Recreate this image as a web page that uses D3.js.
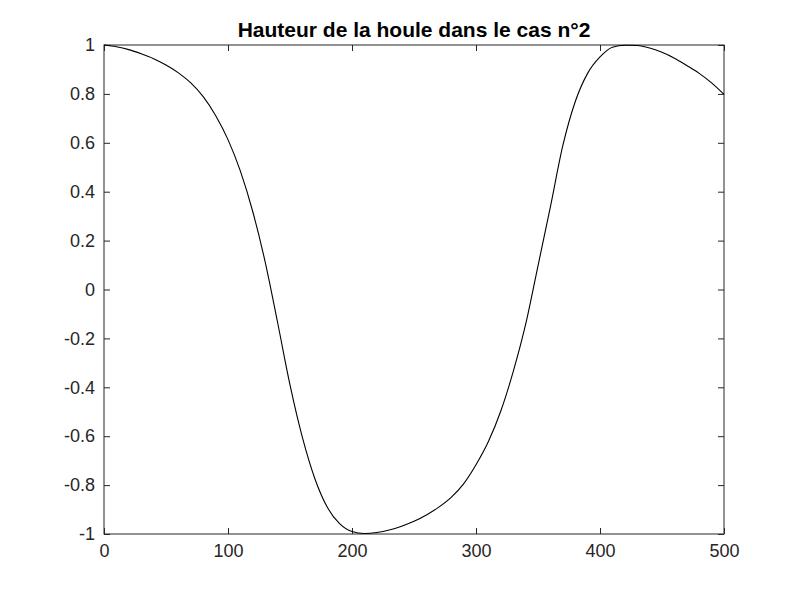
<!DOCTYPE html>
<html>
<head>
<meta charset="utf-8">
<script src="https://cdn.jsdelivr.net/npm/d3@7"></script>
<style>
  body { margin: 0; background: #fff; }
  text { font-family: "Liberation Sans", Arial, sans-serif; }
</style>
</head>
<body>
<svg width="800" height="600"></svg>
<script>
var svg = d3.select("svg"),
	width = +svg.attr("width"),
	height = +svg.attr("height");

// values
var xs = [0, 10, 20, 30, 40, 50, 60, 70, 80, 90,
	100, 110, 120, 130, 140, 150, 160, 170, 180, 190,
	200, 210, 220, 230, 240, 250, 260, 270, 280, 290,
	300, 310, 320, 330, 340, 350, 360, 370, 380, 390,
	400, 410, 420, 430, 440, 450, 460, 470, 480, 490, 500];
var hauteur = [1.0, 0.993, 0.981, 0.964, 0.944, 0.918, 0.886, 0.845, 0.789, 0.712,
	0.613, 0.484, 0.318, 0.112, -0.135, -0.39, -0.605, -0.773, -0.89, -0.958,
	-0.99, -0.998, -0.994, -0.984, -0.968, -0.948, -0.922, -0.890, -0.850, -0.795,
	-0.717, -0.622, -0.497, -0.336, -0.143, 0.097, 0.338, 0.588, 0.768, 0.884,
	0.951, 0.991, 0.999, 0.998, 0.988, 0.970, 0.946, 0.916, 0.884, 0.845, 0.798];
var xTicks = [0, 100, 200, 300, 400, 500];
var yTicks = [-1, -0.8, -0.6, -0.4, -0.2, 0, 0.2, 0.4, 0.6, 0.8, 1];
var titre = "Hauteur de la houle dans le cas n°2";

var margin = {left: 104, right: 76, top: 45, bottom: 66};
var w = width - margin.left - margin.right,
	h = height - margin.top - margin.bottom;

var x = d3.scaleLinear().domain([0, 500]).range([0, w]);
var y = d3.scaleLinear().domain([-1, 1]).range([h, 0]);

var g = svg.append("g")
	.attr("transform", "translate(" + margin.left + "," + margin.top + ")");

var axisColor = "#262626";

//ticks point inward on all four sides
function style(sel) {
	sel.select(".domain").remove();
	sel.selectAll("line").attr("stroke", axisColor);
	sel.selectAll("text")
		.attr("fill", axisColor)
		.style("font-size", "18px");
}

//plain hyphen for negatives, like the original
function fmt(d) { return String(+d.toFixed(1)); }

g.append("g")
	.attr("transform", "translate(0," + h + ")")
	.call(d3.axisBottom(x).tickValues(xTicks).tickSize(-6).tickPadding(10).tickFormat(fmt))
	.call(style);
g.append("g")
	.call(d3.axisTop(x).tickValues(xTicks).tickSize(-6).tickFormat(""))
	.call(style);
g.append("g")
	.call(d3.axisLeft(y).tickValues(yTicks).tickSize(-6).tickPadding(9).tickFormat(fmt))
	.call(style);
g.append("g")
	.attr("transform", "translate(" + w + ",0)")
	.call(d3.axisRight(y).tickValues(yTicks).tickSize(-6).tickFormat(""))
	.call(style);

//box
g.append("rect")
	.attr("width", w)
	.attr("height", h)
	.attr("fill", "none")
	.attr("stroke", axisColor)
	.attr("stroke-width", 1);

//the curve
var line = d3.line()
	.x(function(d, i) { return x(xs[i]); })
	.y(function(d) { return y(d); })
	.curve(d3.curveMonotoneX);

g.append("path")
	.datum(hauteur)
	.attr("d", line)
	.attr("fill", "none")
	.attr("stroke", "#000")
	.attr("stroke-width", 1.1);

svg.append("text")
	.attr("x", margin.left + w / 2)
	.attr("y", 37)
	.attr("text-anchor", "middle")
	.attr("font-weight", "bold")
	.style("font-size", "21px")
	.attr("fill", "#000")
	.text(titre);
</script>
</body>
</html>
